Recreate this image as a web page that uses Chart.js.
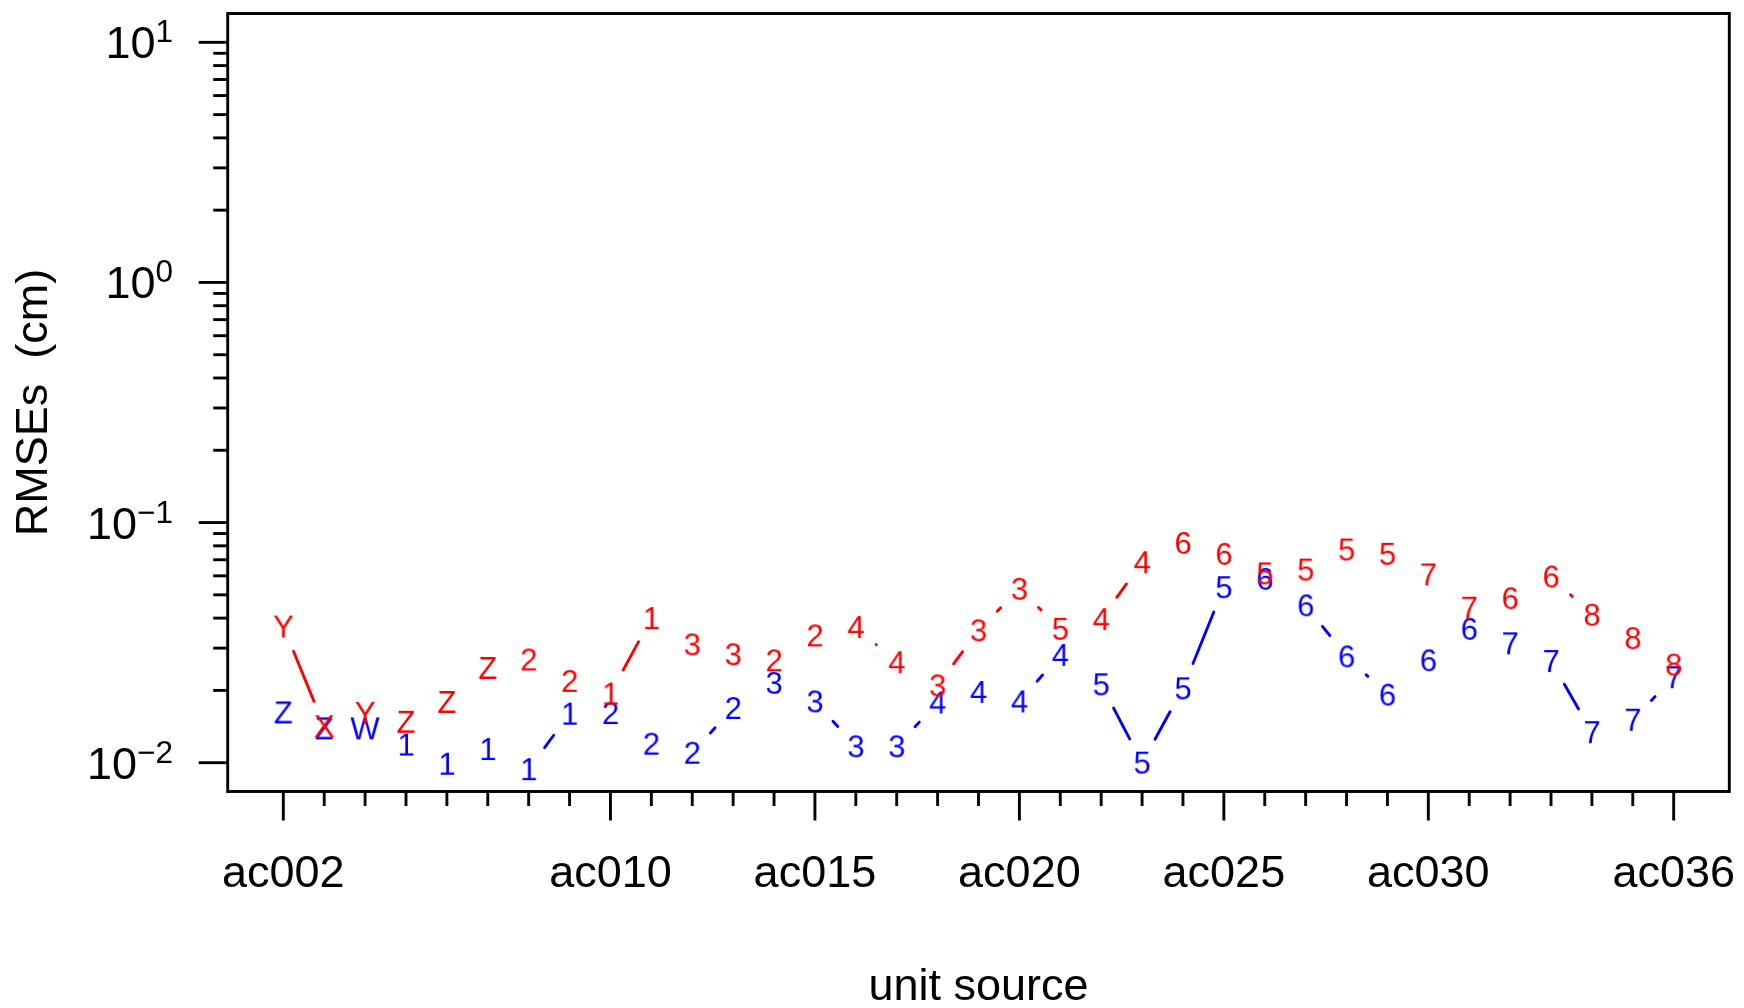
<!DOCTYPE html>
<html>
<head>
<meta charset="utf-8">
<script src="https://cdn.jsdelivr.net/npm/chart.js@4.4.0/dist/chart.umd.min.js"></script>
<style>
html,body{margin:0;padding:0;background:#ffffff;}
canvas{display:block;}
</style>
</head>
<body>
<canvas id="c" width="1744" height="1008"></canvas>
<script>
// ---------------- data ----------------
const categories = ['ac002','ac003','ac004','ac005','ac006','ac007','ac008','ac009','ac010','ac011',
  'ac012','ac013','ac014','ac015','ac016','ac017','ac018','ac019','ac020','ac021',
  'ac022','ac023','ac024','ac025','ac026','ac027','ac028','ac029','ac030','ac031',
  'ac032','ac033','ac034','ac035','ac036'];
const labeledCategories = ['ac002','ac010','ac015','ac020','ac025','ac030','ac036'];

const redValues = [0.0369,0.0142,0.0161,0.0148,0.0179,0.0248,0.0269,0.0219,0.0194,0.0400,
  0.0311,0.0283,0.0267,0.0339,0.0367,0.0262,0.0210,0.0356,0.0530,0.0361,
  0.0396,0.0684,0.0823,0.0741,0.0614,0.0637,0.0772,0.0741,0.0608,0.0442,
  0.0484,0.0596,0.0413,0.0330,0.0256];
const redSymbols = ['Y','X','Y','Z','Z','Z','2','2','1','1',
  '3','3','2','2','4','4','3','3','3','5',
  '4','4','6','6','5','5','5','5','7','7',
  '6','6','8','8','8'];

const blueValues = [0.0162,0.0139,0.0139,0.0119,0.0099,0.0114,0.0094,0.0160,0.0161,0.0120,
  0.0110,0.0169,0.0215,0.0180,0.0117,0.0117,0.0178,0.0197,0.0180,0.0281,
  0.0212,0.0100,0.0204,0.0538,0.0583,0.0452,0.0277,0.0192,0.0267,0.0361,
  0.0314,0.0265,0.0134,0.0151,0.0227];
const blueSymbols = ['Z','Z','W','1','1','1','1','1','2','2',
  '2','2','3','3','3','3','4','4','4','4',
  '5','5','5','5','6','6','6','6','6','6',
  '7','7','7','7','7'];

const yTickExponents = [-2,-1,0,1];
const yLimits = [0.01, 10];
const xTitle = 'unit source';
const yTitle = 'RMSEs  (cm)';

// ---------------- style ----------------
const FONT = '"Liberation Sans", Arial, Helvetica, sans-serif';
const AXIS_FONT_PX = 45;
const SUP_FONT_PX = 31.5;
const PT_FONT_PX = 31;
const LW = 2.9;
const GAP = 26.8;          // gap around each symbol (type="b" style)
const MAJOR_TICK = 29;
const MINOR_TICK = 14.5;
const YLABEL_RIGHT = 173;

function glyph(ch, color) {
  const c = document.createElement('canvas');
  c.width = 46; c.height = 46;
  const g = c.getContext('2d');
  g.font = PT_FONT_PX + 'px ' + FONT;
  g.fillStyle = color;
  g.textAlign = 'center';
  g.textBaseline = 'alphabetic';
  g.fillText(ch, 23, 23 + 0.716 * PT_FONT_PX / 2);
  return c;
}

const logPad = 0.04 * (Math.log10(yLimits[1]) - Math.log10(yLimits[0]));
const yMin = Math.pow(10, Math.log10(yLimits[0]) - logPad);
const yMax = Math.pow(10, Math.log10(yLimits[1]) + logPad);
const xPad = 0.04 * (categories.length - 1);

const gapLines = {
  id: 'gapLines',
  beforeDatasetsDraw(chart) {
    const ctx = chart.ctx;
    const idx = chart.data.datasets.map((d, i) => i).reverse();
    idx.forEach(di => {
      const ds = chart.data.datasets[di];
      const pts = chart.getDatasetMeta(di).data;
      ctx.save();
      ctx.strokeStyle = ds.lineColor;
      ctx.lineWidth = LW;
      ctx.lineCap = 'round';
      for (let i = 1; i < pts.length; i++) {
        const x0 = pts[i-1].x, y0 = pts[i-1].y, x1 = pts[i].x, y1 = pts[i].y;
        const dx = x1 - x0, dy = y1 - y0, L = Math.hypot(dx, dy);
        const f = GAP / L;
        if (f < 0.5) {
          ctx.beginPath();
          ctx.moveTo(x0 + f*dx, y0 + f*dy);
          ctx.lineTo(x1 - f*dx, y1 - f*dy);
          ctx.stroke();
        }
      }
      ctx.restore();
    });
  }
};

const frame = {
  id: 'frame',
  afterDraw(chart) {
    const ctx = chart.ctx;
    const a = chart.chartArea;
    const xs = chart.scales.x, ys = chart.scales.y;
    ctx.save();
    ctx.strokeStyle = '#000';
    ctx.lineWidth = LW;
    ctx.lineCap = 'square';
    ctx.strokeRect(a.left, a.top, a.right - a.left, a.bottom - a.top);
    ctx.lineCap = 'butt';
    // x ticks
    categories.forEach((c, i) => {
      const x = xs.getPixelForValue(i);
      const len = labeledCategories.includes(c) ? MAJOR_TICK : MINOR_TICK;
      ctx.beginPath(); ctx.moveTo(x, a.bottom); ctx.lineTo(x, a.bottom + len); ctx.stroke();
    });
    // y ticks
    for (let k = yTickExponents[0]; k <= yTickExponents[yTickExponents.length-1]; k++) {
      const base = Math.pow(10, k);
      const y = ys.getPixelForValue(base);
      ctx.beginPath(); ctx.moveTo(a.left, y); ctx.lineTo(a.left - MAJOR_TICK, y); ctx.stroke();
      if (k < yTickExponents[yTickExponents.length-1]) {
        for (let m = 2; m <= 9; m++) {
          const ym = ys.getPixelForValue(m * base);
          ctx.beginPath(); ctx.moveTo(a.left, ym); ctx.lineTo(a.left - MINOR_TICK, ym); ctx.stroke();
        }
      }
    }
    // y tick labels 10^k
    ctx.fillStyle = '#000';
    yTickExponents.forEach(k => {
      const y = ys.getPixelForValue(Math.pow(10, k));
      const exp = k < 0 ? '\u2212' + (-k) : String(k);
      ctx.font = SUP_FONT_PX + 'px ' + FONT;
      const ew = ctx.measureText(exp).width;
      ctx.textAlign = 'left';
      ctx.textBaseline = 'alphabetic';
      ctx.fillText(exp, YLABEL_RIGHT - ew, y);
      ctx.font = AXIS_FONT_PX + 'px ' + FONT;
      ctx.textAlign = 'right';
      ctx.fillText('10', YLABEL_RIGHT - ew, y + 16);
    });
    ctx.restore();
  }
};

new Chart(document.getElementById('c'), {
  type: 'line',
  data: {
    datasets: [
      {
        label: 'red',
        data: redValues.map((v, i) => ({x: i, y: v})),
        showLine: false,
        lineColor: '#ff0000',
        pointStyle: redSymbols.map(s => glyph(s, '#ff0000')),
        pointRadius: 12,
        order: 0
      },
      {
        label: 'blue',
        data: blueValues.map((v, i) => ({x: i, y: v})),
        showLine: false,
        lineColor: '#0000ff',
        pointStyle: blueSymbols.map(s => glyph(s, '#0000ff')),
        pointRadius: 12,
        order: 1
      }
    ]
  },
  options: {
    responsive: false,
    animation: false,
    devicePixelRatio: 1,
    layout: { padding: { left: 0, top: 13.5, right: 14.7, bottom: 0 } },
    plugins: { legend: { display: false }, tooltip: { enabled: false }, title: { display: false } },
    scales: {
      x: {
        type: 'linear',
        bounds: 'data',
        min: -xPad,
        max: categories.length - 1 + xPad,
        afterBuildTicks: s => { s.ticks = categories.map((c, i) => ({value: i})); },
        afterFit: s => { s.height = 216.5; s.paddingLeft = 0; s.paddingRight = 0; },
        grid: { display: true, drawOnChartArea: false, drawTicks: true, tickLength: MAJOR_TICK, tickColor: 'rgba(0,0,0,0)' },
        border: { display: false },
        ticks: {
          autoSkip: false, maxRotation: 0, minRotation: 0, padding: 27,
          color: '#000',
          font: { family: FONT, size: AXIS_FONT_PX },
          callback: v => (labeledCategories.includes(categories[v]) ? categories[v] : '')
        },
        title: {
          display: true, text: xTitle, color: '#000',
          font: { family: FONT, size: AXIS_FONT_PX, lineHeight: 1 },
          padding: { top: 0, bottom: -2.5 }
        }
      },
      y: {
        type: 'logarithmic',
        bounds: 'data',
        min: yMin,
        max: yMax,
        afterBuildTicks: s => { s.ticks = yTickExponents.map(k => ({value: Math.pow(10, k)})); },
        afterFit: s => { s.width = 227.7; s.paddingTop = 0; s.paddingBottom = 0; },
        grid: { display: false },
        border: { display: false },
        ticks: { display: false },
        title: {
          display: true, text: yTitle, color: '#000',
          font: { family: FONT, size: AXIS_FONT_PX, lineHeight: 1 },
          padding: { top: 12, bottom: 0 }
        }
      }
    }
  },
  plugins: [gapLines, frame]
});
</script>
</body>
</html>
